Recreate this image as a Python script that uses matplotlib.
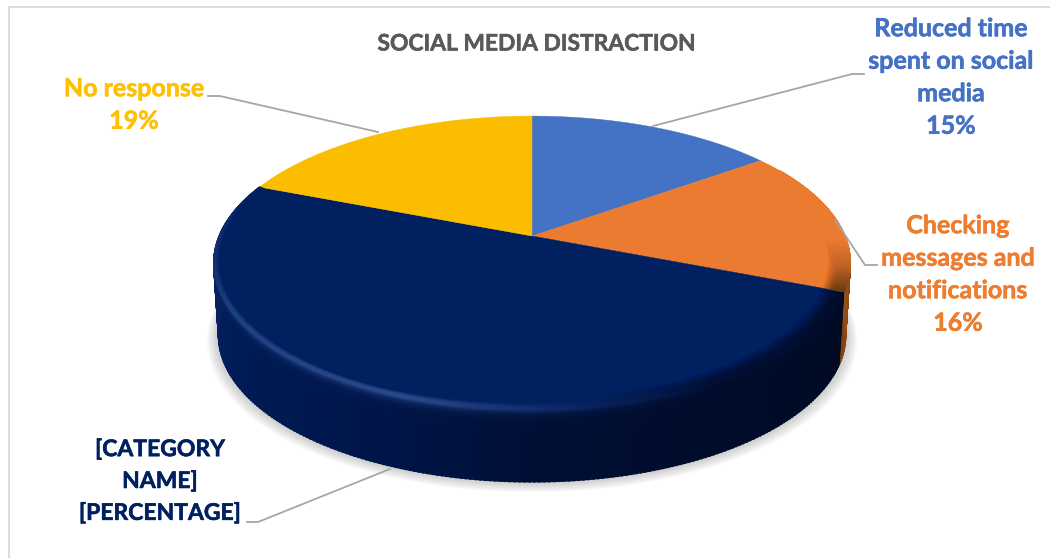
"""Social media distraction survey, drawn as an extruded pie in perspective."""

import numpy as np
import matplotlib
matplotlib.use("Agg")
import matplotlib.pyplot as plt
import matplotlib.patheffects as pe
from matplotlib.colors import to_rgb
from matplotlib.patches import Polygon

# ---------------------------------------------------------------------------
# Data
# ---------------------------------------------------------------------------
TITLE = "SOCIAL MEDIA DISTRACTION"
CATEGORIES = ["Reduced time\nspent on social\nmedia",
              "Checking\nmessages and\nnotifications",
              "[CATEGORY\nNAME]",
              "No response"]
VALUES = [15, 16, 50, 19]
VALUE_LABELS = ["15%", "16%", "[PERCENTAGE]", "19%"]

# ---------------------------------------------------------------------------
# Styles and layout (pixel space)
# ---------------------------------------------------------------------------
COLORS = ["#4472C4", "#EA7B30", "#00205F", "#FBBD00"]
TEXT_COLORS = ["#4472C4", "#ED7D31", "#002060", "#FFC000"]
LABEL_POS = [(951, 77.5), (958, 274.5), (160, 481.5), (134, 105)]
LABEL_SIZES = [18, 18, 16.5, 18]
LABEL_SPACING = [1.5, 1.5, 1.64, 1.5]
LEADERS = [
    [(864, 74), (852, 74), (653, 126)],
    [(877, 265), (865, 265), (835, 220)],
    [(247, 522), (258, 522), (390, 469)],
    [(208, 96), (220, 96), (378, 132)],
]

CX, CY = 532, 236
RX, RY = 313, 142
PERSP = 0.184
BOTTOM_CY = 308
BOTTOM_SX = 0.985


def project(theta, r=1.0, cy=CY, sx=1.0):
    """Disc point at clockwise angle theta (radians from 12 o'clock) to pixels."""
    u = r * np.sin(theta)
    v = r * np.cos(theta)
    d = 1 + PERSP * v
    return CX + sx * RX * u / d, cy - RY * v / d


def hex_ramp(theta_deg, stops):
    """Piecewise colour along the rim, stops are (angle, colour)."""
    angles = [a for a, _ in stops]
    rgb = np.array([to_rgb(c) for _, c in stops])
    return np.stack([np.interp(theta_deg, angles, rgb[:, i]) for i in range(3)], axis=-1)


SIDE_STOPS = {
    1: [(60, "#6b3a10"), (90, "#9a5518"), (112, "#7a4212")],
    2: [(112, "#000a24"), (150, "#000c2a"), (180, "#000f36"), (205, "#00164a"),
        (240, "#001c56"), (270, "#0a2262"), (292, "#0c2568")],
}
RIM_STOPS = {
    1: [(60, "#EA7B30"), (92, "#EA7B30"), (102, "#c06426"), (112, "#6b3a10")],
    2: [(112, "#000c2a"), (150, "#000f33"), (172, "#0a2460"), (200, "#2a4a8c"),
        (240, "#1e3f80"), (270, "#0e2c70"), (292, "#00205F")],
}
# inner radius of the bevel, wider along the dark front right
BEVEL_ANGLES = [112, 165, 205, 292]
BEVEL_INNER = [0.93, 0.945, 0.975, 0.98]


fig = plt.figure(figsize=(10.5, 5.58), dpi=100)
ax = fig.add_axes([0, 0, 1, 1])
ax.set_xlim(0, 1050)
ax.set_ylim(558, 0)
ax.axis("off")

# outer frame, only the top and left edges fall inside the canvas
ax.plot([9, 9, 1050], [558, 6.5, 6.5], color="#d9d9d9", lw=1.3, zorder=1)

# soft shadow under the slab
full = np.linspace(0, 2 * np.pi, 361)
for i in range(10, 0, -1):
    x, y = project(full, cy=BOTTOM_CY + 0.5 * i, sx=BOTTOM_SX + 0.0036 * i)
    y = BOTTOM_CY + 0.5 * i + (y - BOTTOM_CY - 0.5 * i) * (1 + 0.003 * i)
    ax.add_patch(Polygon(np.column_stack([x, y]), closed=True, fc="#808080",
                         ec="none", alpha=0.045, zorder=2))

# wedge boundaries, clockwise from 12 o'clock
edges = np.radians(np.concatenate([[0], np.cumsum(VALUES)]) * 3.6)

# slab side, one mesh per visible slice; later slices sit in front
for idx, stops in SIDE_STOPS.items():
    start = max(edges[idx], np.radians(stops[0][0]))
    th = np.linspace(start, edges[idx + 1], 240)
    s = np.linspace(0, 1, 25)
    T, S = np.meshgrid(th, s)
    x0, y0 = project(T)
    x1, y1 = project(T, cy=BOTTOM_CY, sx=BOTTOM_SX)
    X = x0 + (x1 - x0) * S
    Y = y0 + (y1 - y0) * S
    side = hex_ramp(np.degrees(T), stops)
    rim = hex_ramp(np.degrees(T), RIM_STOPS[idx])
    fade = np.exp(-S / 0.05)[..., None]
    ax.pcolormesh(X, Y, side + (rim - side) * fade, shading="gouraud", zorder=3 + idx * 0.1)
    # clean up the jagged lower edge of the mesh
    bx, by = project(th, cy=BOTTOM_CY, sx=BOTTOM_SX)
    ax.scatter(bx, by, c=hex_ramp(np.degrees(th), stops), s=1.2, linewidths=0,
               zorder=3.05 + idx * 0.1)

# top face
for i, color in enumerate(COLORS):
    th = np.linspace(edges[i], edges[i + 1], 200)
    x, y = project(th)
    pts = np.column_stack([np.r_[CX, x], np.r_[CY, y]])
    ax.add_patch(Polygon(pts, closed=True, fc=color, ec=color, lw=0.3, zorder=4))

# bevelled edge fading into the top face
for idx, stops in RIM_STOPS.items():
    start = max(edges[idx], np.radians(stops[0][0]))
    th = np.linspace(start, edges[idx + 1], 240)
    inner = np.interp(np.degrees(th), BEVEL_ANGLES, BEVEL_INNER)
    frac = np.linspace(0, 1, 14)
    T = np.tile(th, (len(frac), 1))
    F = np.tile(frac[:, None], (1, len(th)))
    R = inner + (1 - inner) * F
    X, Y = project(T, r=R)
    rgba = np.dstack([hex_ramp(np.degrees(T), stops), F ** 2])
    ax.pcolormesh(X, Y, rgba, shading="gouraud", zorder=5)

# leader lines
for pts in LEADERS:
    xs, ys = zip(*pts)
    ax.plot(xs, ys, color="#a6a6a6", lw=1.3, solid_joinstyle="round", zorder=6)

# text
ax.text(537, 44, TITLE, ha="center", va="center", family="Lato", weight="bold",
        fontsize=16.4, color="#595959", zorder=7,
        path_effects=[pe.withStroke(linewidth=0.4, foreground="#595959")])
for name, val, pos, size, spacing, color in zip(CATEGORIES, VALUE_LABELS, LABEL_POS,
                                                LABEL_SIZES, LABEL_SPACING, TEXT_COLORS):
    ax.text(pos[0], pos[1], f"{name}\n{val}", ha="center", va="center", family="Lato",
            weight="bold", fontsize=size, color=color, linespacing=spacing, zorder=7,
            path_effects=[pe.withStroke(linewidth=0.4, foreground=color)])

fig.savefig("out.png", dpi=100)
plt.close(fig)
